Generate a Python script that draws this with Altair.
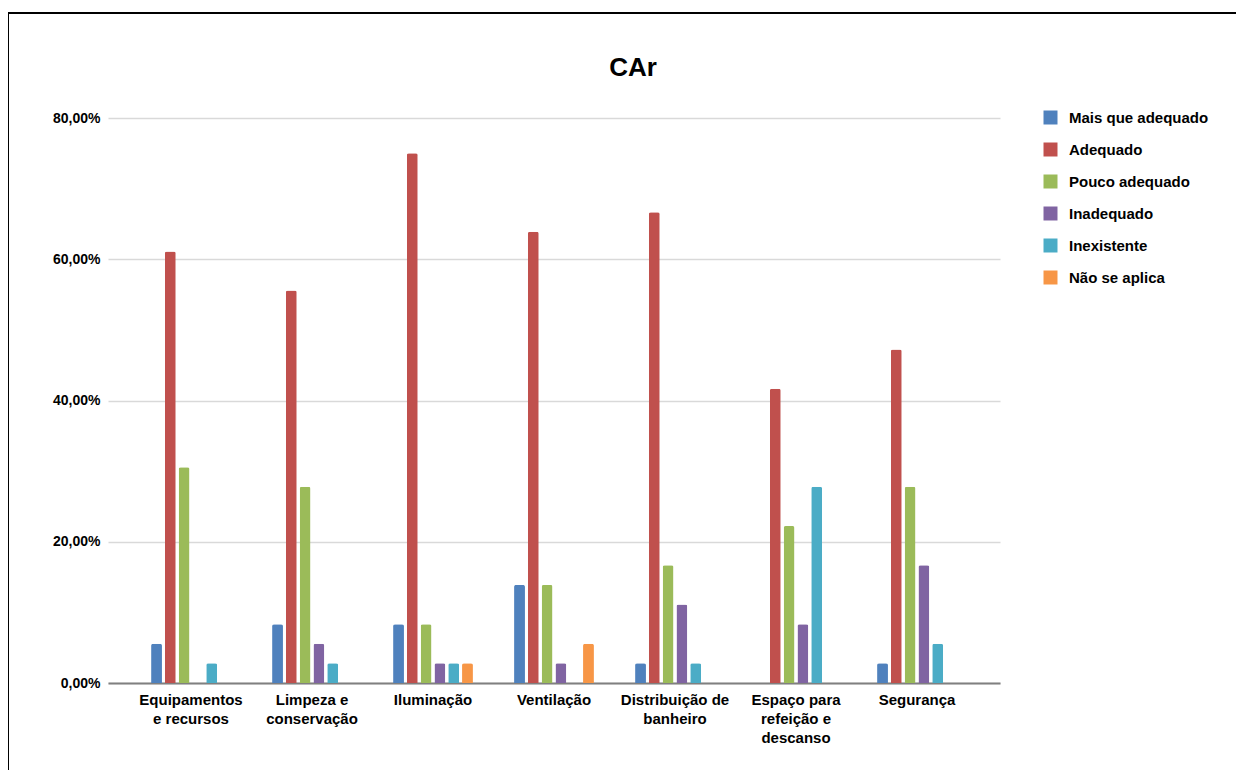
import altair as alt
import pandas as pd

title_text = "CAr"
categories = ["Equipamentos e recursos", "Limpeza e conservação", "Iluminação",
              "Ventilação", "Distribuição de banheiro",
              "Espaço para refeição e descanso", "Segurança"]
category_lines = [["Equipamentos", "e recursos"], ["Limpeza e", "conservação"],
                  ["Iluminação"], ["Ventilação"], ["Distribuição de", "banheiro"],
                  ["Espaço para", "refeição e", "descanso"], ["Segurança"]]
series = ["Mais que adequado", "Adequado", "Pouco adequado", "Inadequado",
          "Inexistente", "Não se aplica"]
colors = ["#4f81bd", "#c0504d", "#9bbb59", "#8064a2", "#4bacc6", "#f79646"]

mais_que_adequado = [0.0556, 0.0833, 0.0833, 0.1389, 0.0278, 0.0, 0.0278]
adequado = [0.6111, 0.5556, 0.7500, 0.6389, 0.6667, 0.4167, 0.4722]
pouco_adequado = [0.3056, 0.2778, 0.0833, 0.1389, 0.1667, 0.2222, 0.2778]
inadequado = [0.0, 0.0556, 0.0278, 0.0278, 0.1111, 0.0833, 0.1667]
inexistente = [0.0278, 0.0278, 0.0278, 0.0, 0.0278, 0.2778, 0.0556]
nao_se_aplica = [0.0, 0.0, 0.0278, 0.0556, 0.0, 0.0, 0.0]

values = [mais_que_adequado, adequado, pouco_adequado, inadequado, inexistente, nao_se_aplica]
rows = []
for s, vals in zip(series, values):
    for c, v in zip(categories, vals):
        rows.append({"categoria": c, "serie": s, "valor": v})
df = pd.DataFrame(rows)

label_map = "{" + ",".join(
    "'" + c + "':[" + ",".join("'" + l + "'" for l in lines) + "]"
    for c, lines in zip(categories, category_lines)) + "}"

FONT = "Liberation Sans"

bars = alt.Chart(df).mark_bar(cornerRadiusTopLeft=2, cornerRadiusTopRight=2).encode(
    x=alt.X("categoria:N", sort=categories, title=None,
            scale=alt.Scale(paddingInner=0.34, paddingOuter=0.356),
            axis=alt.Axis(labelAngle=0, labelExpr=label_map + "[datum.label]",
                          labelFont=FONT, labelFontSize=15, labelFontWeight="bold",
                          labelColor="#000000", labelLineHeight=19, labelPadding=9,
                          labelBaseline="top",
                          ticks=False, domainColor="#808080", domainWidth=2,
                          grid=False)),
    xOffset=alt.XOffset("serie:N", sort=series, scale=alt.Scale(paddingInner=0.21)),
    y=alt.Y("valor:Q", title=None,
            scale=alt.Scale(domain=[0, 0.8], nice=False),
            axis=alt.Axis(values=[0, 0.2, 0.4, 0.6, 0.8],
                          labelExpr="replace(format(datum.value, '.2%'), '.', ',')",
                          labelFont=FONT, labelFontSize=14, labelFontWeight="bold",
                          labelColor="#000000", labelPadding=8,
                          ticks=False, domain=False,
                          gridColor="#d9d9d9", gridWidth=1.5)),
    color=alt.Color("serie:N", sort=series,
                    scale=alt.Scale(domain=series, range=colors),
                    legend=alt.Legend(title=None, orient="none", legendX=935, legendY=-8,
                                      symbolType="square", symbolSize=196,
                                      symbolStrokeWidth=0, labelFont=FONT,
                                      labelFontSize=15, labelFontWeight="bold",
                                      labelColor="#000000", labelOffset=11,
                                      rowPadding=16)),
)

single = pd.DataFrame({"t": [title_text]})

frame = alt.Chart(single).mark_rect(
    fill=None, stroke="#000000", strokeWidth=2, clip=False).encode(
    x=alt.value(-100), x2=alt.value(1200), y=alt.value(-105), y2=alt.value(720))

title = alt.Chart(single).mark_text(
    font=FONT, fontSize=26, fontWeight="bold", color="#000000",
    align="center", baseline="middle", clip=False).encode(
    text="t:N", x=alt.value(525), y=alt.value(-50))

chart = alt.layer(frame, bars, title).properties(
    width=892, height=565,
    autosize=alt.AutoSizeParams(type="none"),
    padding={"left": 100, "top": 110, "right": 236, "bottom": 87},
).configure(background="#ffffff").configure_view(strokeWidth=0, stroke="transparent")

chart.save("out.html", embed_options={"renderer": "svg", "actions": False})
